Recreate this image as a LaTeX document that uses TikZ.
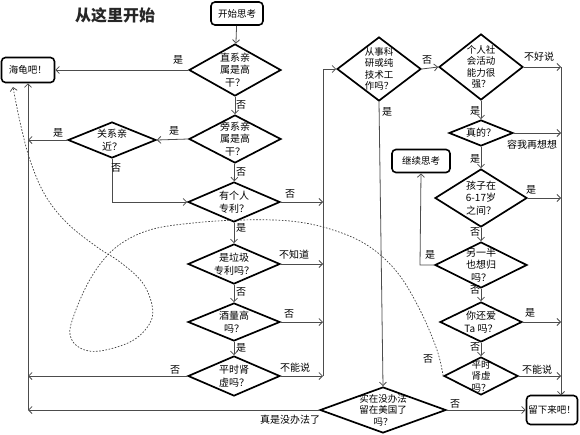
\documentclass[tikz,border=0pt]{standalone}
\usepackage{fontspec}
\setmainfont{Noto Sans CJK SC}
\usetikzlibrary{shapes.geometric,arrows.meta}
\begin{document}
\begin{tikzpicture}[x=1pt,y=-1pt,
  dia/.style={diamond, draw=black, line width=1.7pt, inner sep=0pt},
  box/.style={draw=black, rounded corners=4pt, line width=1.6pt, inner sep=0pt, font=\fontsize{9.5}{11}\selectfont},
  lbl/.style={font=\fontsize{10}{12.5}\selectfont, align=center, inner sep=0pt},
  lbls/.style={font=\fontsize{9.5}{11.5}\selectfont, align=center, inner sep=0pt},
  ln/.style={draw=black!70, line width=0.8pt},
  arr/.style={ln, -{Straight Barb[length=3.5pt,width=7pt]}},
  tag/.style={font=\fontsize{10}{12}\selectfont, inner sep=0pt},
  dsh/.style={draw=black!75, line width=0.7pt, dash pattern=on 1.6pt off 1.6pt, -{Straight Barb[length=3.5pt,width=7pt]}}
]
\useasboundingbox (0,0) rectangle (580,434);
\fill[white] (0,0) rectangle (580,434);

% title and boxes
\node[font=\bfseries\fontsize{16}{16}\selectfont, text=black!85, inner sep=0pt] (title) at (115,15) {从这里开始};
\node[box, minimum width=52pt, minimum height=23pt] (start) at (237,13.5) {开始思考};
\node[box, minimum width=53pt, minimum height=25pt] (haigui) at (28,70) {海龟吧！};
\node[box, minimum width=58pt, minimum height=23pt] (jixu) at (421,161) {继续思考};
\node[box, minimum width=51pt, minimum height=29pt] (liuxia) at (552,410) {留下来吧！};

% left column diamonds
\node[dia, minimum width=92pt, minimum height=52pt, label={[lbl]center:直系亲\\属是高\\干？}] (d1) at (235,70) {};
\node[dia, minimum width=92pt, minimum height=48pt, label={[lbl]center:旁系亲\\属是高\\干？}] (d2) at (235,139) {};
\node[dia, minimum width=88pt, minimum height=36pt, label={[lbl]center:关系亲\\近？}] (d3) at (112,140) {};
\node[dia, minimum width=92pt, minimum height=40pt, label={[lbl]center:有个人\\专利？}] (d4) at (234,202) {};
\node[dia, minimum width=92pt, minimum height=40pt, label={[lbl]center:是垃圾\\专利吗？}] (d5) at (234,264) {};
\node[dia, minimum width=92pt, minimum height=38pt, label={[lbl]center:酒量高\\吗？}] (d6) at (234,322) {};
\node[dia, minimum width=92pt, minimum height=40pt, label={[lbl]center:平时肾\\虚吗？}] (d7) at (234,376) {};

% right column diamonds
\node[dia, minimum width=84pt, minimum height=64pt, label={[lbls]center:从事科\\研或纯\\技术工\\作吗？}] (d8) at (379,69) {};
\node[dia, minimum width=84pt, minimum height=66pt, label={[lbls]center:个人社\\会活动\\能力很\\强？}] (d9) at (481,67) {};
\node[dia, minimum width=64pt, minimum height=26pt, label={[lbl]center:真的？}] (d10) at (481,133) {};
\node[dia, minimum width=92pt, minimum height=58pt, label={[lbl]center:孩子在\\6-17岁\\之间？}] (d11) at (481,198) {};
\node[dia, minimum width=92pt, minimum height=46pt, label={[lbl]center:另一半\\也想归\\吗？}] (d12) at (481,265) {};
\node[dia, minimum width=82pt, minimum height=40pt, label={[lbl]center:你还爱\\Ta 吗？}] (d13) at (481,322) {};
\node[dia, minimum width=74pt, minimum height=38pt, label={[lbls]center:平时\\肾虚\\吗？}] (d14) at (481,376) {};
\node[dia, minimum width=126pt, minimum height=46pt, label={[lbls]center:实在没办法\\留在美国了\\吗？}] (d15) at (383,410) {};

% bus coordinates
\coordinate (lb) at (28,410);
\coordinate (l3) at (28,140);
\coordinate (l7) at (28,376);
\coordinate (m4) at (323,202);
\coordinate (m5) at (323,264);
\coordinate (m6) at (323,322);
\coordinate (m7) at (323,376);
\coordinate (mt) at (323,69);
\coordinate (r9) at (561,67);
\coordinate (r10) at (561,133);
\coordinate (r11) at (561,198);
\coordinate (r13) at (561,322);
\coordinate (r14) at (561,376);
\coordinate (rb) at (561,395.5);
\coordinate (c3) at (112,202);
\coordinate (c12) at (420,265);

% connectors left part
\draw[arr] (start) -- (d1);
\draw[arr] (d1.west) -- (haigui.east);
\draw[arr] (d1) -- (d2);
\draw[arr] (d2.west) -- (d3.east);
\draw[arr] (d3.west) -- (l3);
\draw[arr] (d3.south) -- (c3) -- (d4.west);
\draw[arr] (d2) -- (d4);
\draw[arr] (d4.east) -- (m4);
\draw[arr] (d4) -- (d5);
\draw[arr] (d5.east) -- (m5);
\draw[arr] (d5) -- (d6);
\draw[arr] (d6.east) -- (m6);
\draw[arr] (d6) -- (d7);
\draw[arr] (d7.east) -- (m7);
\draw[arr] (d7.west) -- (l7);
\draw[arr] (m7) -- (mt) -- (d8.west);
\draw[arr] (d15.west) -- (lb);
\draw[arr] (lb) -- (haigui.south);

% connectors right part
\draw[arr] (d8.east) -- (d9.west);
\draw[arr] (d8.south) -- (d15.north);
\draw[arr] (d9.east) -- (r9);
\draw[arr] (d9) -- (d10);
\draw[arr] (d10.east) -- (r10);
\draw[arr] (d10) -- (d11);
\draw[arr] (d11.east) -- (r11);
\draw[arr] (d11) -- (d12);
\draw[arr] (d12.west) -- (c12) -- (jixu.south);
\draw[arr] (d12) -- (d13);
\draw[arr] (d13.east) -- (r13);
\draw[arr] (d13) -- (d14);
\draw[arr] (d14.east) -- (r14);
\draw[arr] (r9) -- (rb);
\draw[arr] (d15.east) -- (liuxia.west);

% dashed curve
\draw[dsh] plot[smooth, tension=0.6] coordinates {(d14.west) (437,350) (420,310) (397,272) (367,245) (330,229) (290,221) (240,220) (193,223) (153,229) (125,241) (105,258) (88,283) (74,315) (70,335) (80,348) (100,351) (132,341) (150,323) (152,305) (142,282) (120,262) (97,247) (67,223) (45,195) (30,160) (20,122) (13,87)};

% tags
\node[tag] (t1) at (178,60) {是};
\node[tag] (t2) at (241,105) {否};
\node[tag] (t3) at (174,131) {是};
\node[tag] (t4) at (58,133) {是};
\node[tag] (t5) at (116,168) {否};
\node[tag] (t6) at (241,172) {否};
\node[tag] (t7) at (290,194) {否};
\node[tag] (t8) at (241,228) {是};
\node[tag] (t9) at (294,255) {不知道};
\node[tag] (t10) at (241,292) {否};
\node[tag] (t11) at (289,314) {否};
\node[tag] (t12) at (241,348) {是};
\node[tag] (t13) at (295,368) {不能说};
\node[tag] (t14) at (175,370) {否};
\node[tag] (t15) at (290,420) {真是没办法了};
\node[tag] (t16) at (427,60) {否};
\node[tag] (t17) at (387,112) {是};
\node[tag] (t18) at (539,57) {不好说};
\node[tag] (t19) at (475,111) {是};
\node[tag] (t20) at (532,145) {容我再想想};
\node[tag] (t21) at (475,159) {是};
\node[tag] (t22) at (531,190) {是};
\node[tag] (t23) at (475,232) {否};
\node[tag] (t24) at (430,255) {是};
\node[tag] (t25) at (475,290) {否};
\node[tag] (t26) at (530,313) {是};
\node[tag] (t27) at (475,347) {否};
\node[tag] (t28) at (537,370) {不能说};
\node[tag] (t29) at (428,359) {否};
\node[tag] (t30) at (455,404) {否};
\end{tikzpicture}
\end{document}
